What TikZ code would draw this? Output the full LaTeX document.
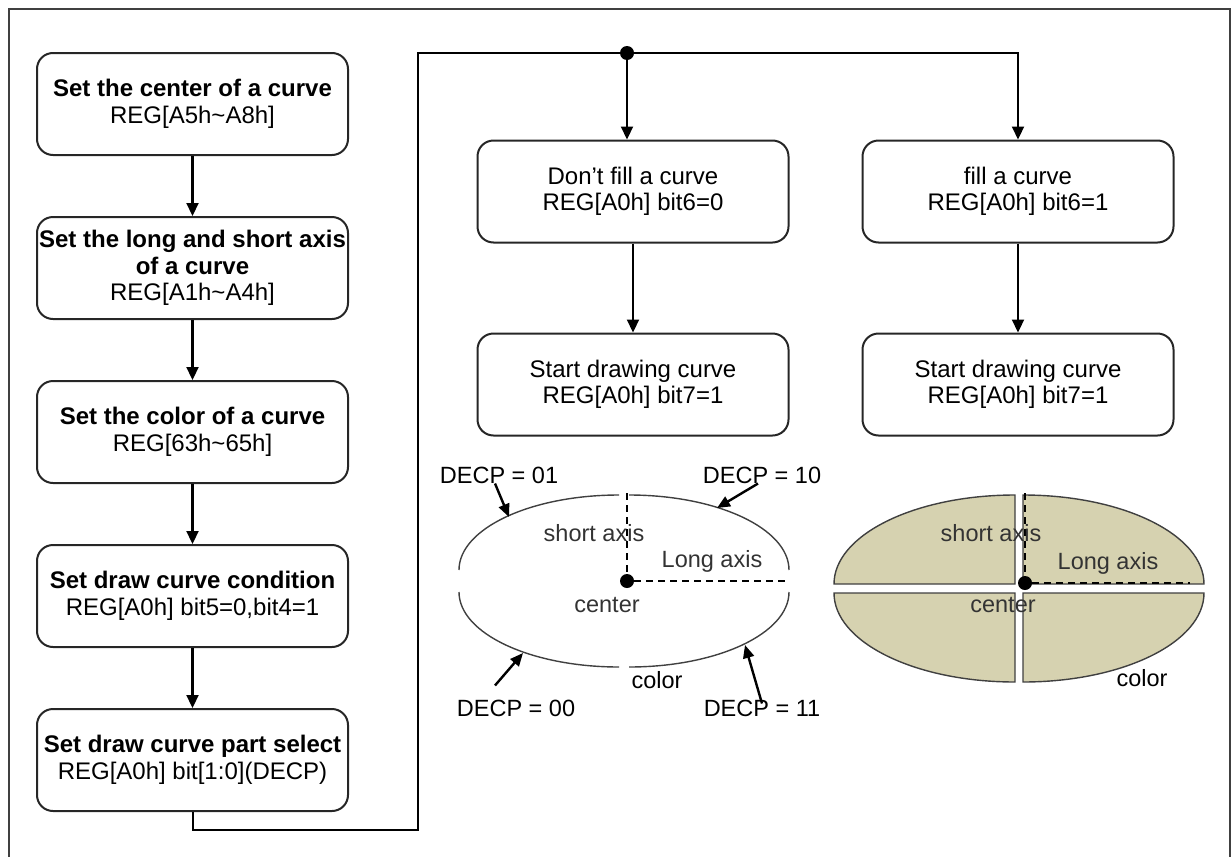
\documentclass[tikz,border=0pt]{standalone}
\usepackage{fontspec}
\setmainfont{Liberation Sans}
\usetikzlibrary{positioning}
\usetikzlibrary{arrows.meta}
\definecolor{khaki}{RGB}{214,210,176}

\begin{document}
\begin{tikzpicture}[x=1pt, y=1pt,
    proc/.style={draw=black!85, line width=2pt, rounded corners=16pt, minimum width=311pt, minimum height=102pt, align=center, inner sep=1pt, font=\fontsize{24}{26.5}\selectfont},
    arr/.style={line width=2.2pt, -{Triangle[length=13pt, width=12pt]}},
    ptr/.style={line width=2.4pt, -{Triangle[length=13pt, width=11pt]}},
    lbl/.style={inner sep=0pt, font=\fontsize{23.5}{26}\selectfont},
    dot/.style={fill, circle, inner sep=0pt, minimum size=14pt},
    quad/.style={draw=black!75, line width=1.4pt},
    axisline/.style={line width=1.8pt, dash pattern=on 7pt off 5pt}]%
        \useasboundingbox (0,0) rectangle (1232,-857);%
        \draw[line width=2pt, black!75] (9,-9) rectangle (1230,-870);%
        % left column
        \node[proc] (setctr) at (192.5,-104) {\bfseries Set the center of a curve\\REG[A5h\textasciitilde A8h]};%
        \node[proc, below=60pt of setctr] (setaxis) {\bfseries Set the long and short axis\\\bfseries of a curve\\REG[A1h\textasciitilde A4h]};%
        \node[proc, below=60pt of setaxis] (setcol) {\bfseries Set the color of a curve\\REG[63h\textasciitilde 65h]};%
        \node[proc, below=60pt of setcol] (setcond) {\bfseries Set draw curve condition\\REG[A0h] bit5=0,bit4=1};%
        \node[proc, below=60pt of setcond] (setpart) {\bfseries Set draw curve part select\\REG[A0h] bit[1:0](DECP)};%
        \draw[arr] (setctr) -- (setaxis);%
        \draw[arr] (setaxis) -- (setcol);%
        \draw[arr] (setcol) -- (setcond);%
        \draw[arr] (setcond) -- (setpart);%
        % right columns
        \node[proc] (nofill) at (633,-191.5) {Don't fill a curve\\REG[A0h] bit6=0};%
        \node[proc, right=72pt of nofill] (dofill) {fill a curve\\REG[A0h] bit6=1};%
        \node[proc, below=89pt of nofill] (start1) {Start drawing curve\\REG[A0h] bit7=1};%
        \node[proc, below=89pt of dofill] (start2) {Start drawing curve\\REG[A0h] bit7=1};%
        \node[dot] (split) at (627,-53) {};%
        \coordinate (back) at (418,-830);%
        \draw[line width=2pt] (setpart) |- (back) |- (split);%
        \draw[arr] (split) -- (split |- nofill.north);%
        \draw[arr] (split) -| (dofill);%
        \draw[arr] (nofill) -- (start1);%
        \draw[arr] (dofill) -- (start2);%
        % outline curve
        \draw[quad] (619,-495) arc[start angle=90, end angle=180, x radius=160pt, y radius=75pt];%
        \draw[quad] (629,-495) arc[start angle=90, end angle=0, x radius=160pt, y radius=75pt];%
        \draw[quad] (619,-667) arc[start angle=270, end angle=180, x radius=160pt, y radius=75pt];%
        \draw[quad] (629,-667) arc[start angle=270, end angle=360, x radius=160pt, y radius=75pt];%
        \node[dot] (ctr1) at (627,-581) {};%
        \coordinate (top1) at (627,-493);%
        \coordinate (end1) at (790,-581);%
        \draw[axisline] (top1) -- (ctr1);%
        \draw[axisline] (ctr1) -- (end1);%
        \node[lbl, black!80] (short1) at (594,-533) {short axis};%
        \node[lbl, black!80] (long1) at (712,-561) {Long axis};%
        \node[lbl, black!80] (cen1) at (607,-605) {center};%
        \node[lbl] (col1) at (657,-680) {color};%
        \node[lbl] (d01) at (499,-475) {DECP = 01};%
        \node[lbl] (d10) at (762,-475) {DECP = 10};%
        \node[lbl] (d00) at (516,-708) {DECP = 00};%
        \node[lbl] (d11) at (762,-708) {DECP = 11};%
        \coordinate (p01) at (509,-517);%
        \coordinate (p10) at (717,-508);%
        \coordinate (p00) at (523,-653);%
        \coordinate (p11) at (745,-645);%
        \draw[ptr] ([xshift=-4pt]d01.south) -- (p01);%
        \draw[ptr] ([xshift=-4pt]d10.south) -- (p10);%
        \draw[ptr] ([xshift=-21pt, yshift=14pt]d00.north) -- (p00);%
        \draw[ptr] ([yshift=-4pt]d11.north) -- (p11);%
        % filled curve
        \filldraw[quad, fill=khaki] (1015,-584) -- (1015,-495) arc[start angle=90, end angle=180, x radius=181pt, y radius=89pt] -- cycle;%
        \filldraw[quad, fill=khaki] (1023,-584) -- (1023,-495) arc[start angle=90, end angle=0, x radius=181pt, y radius=89pt] -- cycle;%
        \filldraw[quad, fill=khaki] (1015,-593) -- (1015,-682) arc[start angle=270, end angle=180, x radius=181pt, y radius=89pt] -- cycle;%
        \filldraw[quad, fill=khaki] (1023,-593) -- (1023,-682) arc[start angle=270, end angle=360, x radius=181pt, y radius=89pt] -- cycle;%
        \node[dot] (ctr2) at (1025,-583) {};%
        \coordinate (top2) at (1025,-493);%
        \coordinate (end2) at (1190,-583);%
        \draw[axisline] (top2) -- (ctr2);%
        \draw[axisline] (ctr2) -- (end2);%
        \node[lbl, black!80] (short2) at (991,-533) {short axis};%
        \node[lbl, black!80] (long2) at (1108,-563) {Long axis};%
        \node[lbl, black!80] (cen2) at (1003,-605) {center};%
        \node[lbl] (col2) at (1142,-678) {color};%
      \end{tikzpicture}
\end{document}
